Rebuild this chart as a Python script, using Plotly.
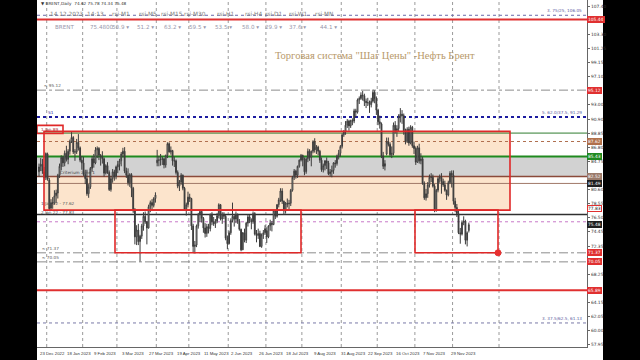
import plotly.graph_objects as go
import pandas as pd

# ---------------- data (Brent daily) ----------------
opens = [
    83.2, 84.0, 84.3, 83.2, 82.4,
    85.8, 82.0, 77.9, 78.7, 78.6, 79.7, 80.1, 82.7, 84.0, 85.3, 84.5, 85.9, 85.0, 86.2, 87.6, 88.2, 86.1, 86.1, 87.5, 86.7, 84.9,
    84.5, 82.8, 82.2, 80.0, 81.0, 83.7, 85.1, 84.5, 86.4, 86.6, 85.6, 85.4, 85.1, 83.0, 84.1, 83.1, 80.6, 82.2, 83.2, 82.5,
    83.9, 84.3, 84.8, 85.8, 86.2, 83.3, 82.7, 81.6, 82.8, 80.8, 77.5, 73.7, 74.7, 73.0, 73.8, 75.3, 76.7, 75.9, 75.0, 78.1, 78.7, 78.3, 79.3,
    84.5, 84.9, 84.9, 85.0, 85.1, 84.2, 85.6, 87.3, 86.1, 86.3, 84.8, 84.8, 83.1, 81.1, 81.7, 82.7, 80.8, 77.7, 78.4,
    79.5, 79.3, 75.3, 72.3, 72.5, 75.3, 77.0, 77.4, 76.4, 75.0, 74.2, 75.2, 74.9, 77.0, 75.9, 75.6, 76.0, 76.8, 78.4, 76.3, 77.0, 76.7, 73.5,
    72.7, 74.3, 76.1, 76.7, 76.3, 77.0, 76.0, 74.8, 71.8, 74.3, 73.2, 75.7, 76.6, 76.1, 75.9, 77.1, 74.1, 73.9, 74.2, 72.3, 74.0, 74.3,
    74.6, 73.7, 75.3, 75.7, 75.5, 77.5, 76.7, 78.4, 79.1, 80.4, 78.9, 77.5, 78.6, 78.5, 78.6, 80.5, 82.4, 83.3, 82.7, 84.0, 84.9,
    85.6, 84.9, 83.2, 85.1, 86.2, 85.3, 86.2, 87.6, 86.4, 86.8, 86.2, 84.9, 83.5, 84.1, 84.8, 84.5, 82.9, 83.2, 83.4, 84.5, 84.4, 85.5, 85.9,
    86.9, 88.6, 89.0, 90.0, 90.6, 89.9, 90.7, 90.6, 92.1, 91.9, 93.7, 93.9, 94.4, 94.3, 93.5, 93.3, 93.3, 93.0, 93.5, 94.8, 93.9,
    92.2, 90.5, 90.2, 85.5, 84.0, 85.8, 87.6, 87.2, 85.7, 85.9, 90.0, 89.2, 89.5, 91.2, 91.6, 91.4, 89.1, 87.6, 89.4, 87.4, 89.7, 87.0,
    86.6, 84.6, 86.7, 84.8, 85.1, 81.5, 79.4, 80.0, 81.3, 82.4, 82.4, 81.1, 77.5, 80.5, 82.2, 82.4, 81.8, 81.3, 80.5, 79.8, 81.6, 83.0,
    82.7, 78.9, 78.0, 77.1, 74.3, 74.1, 75.8, 76.0, 73.2, 74.62,
]
highs = [
    84.4, 85.2, 85.1, 83.9, 86.0,
    86.0, 82.3, 79.2, 79.5, 80.5, 80.6, 82.9, 84.4, 85.6, 85.5, 86.3, 87.0, 86.5, 87.9, 89.0, 88.4, 86.5, 88.0, 88.7, 86.9, 85.5,
    85.4, 83.5, 83.5, 81.4, 83.9, 85.5, 85.8, 86.8, 86.9, 86.8, 85.8, 86.2, 85.3, 84.3, 84.6, 83.4, 82.6, 83.6, 83.5, 84.1,
    84.8, 85.1, 86.1, 86.7, 86.8, 83.8, 83.7, 83.0, 83.0, 81.0, 77.9, 75.4, 75.6, 74.0, 75.6, 77.3, 77.4, 76.0, 78.4, 79.0, 79.2, 79.5, 80.2,
    86.4, 85.5, 85.8, 85.4, 85.2, 85.7, 87.5, 87.5, 86.9, 86.4, 85.4, 85.0, 83.4, 82.0, 83.0, 82.8, 81.0, 78.7, 80.3,
    80.0, 79.4, 75.6, 73.1, 75.5, 77.2, 77.6, 77.6, 76.6, 75.7, 75.6, 75.6, 77.1, 77.3, 76.6, 76.3, 77.2, 78.6, 78.5, 77.3, 77.3, 76.9, 73.9,
    74.6, 76.4, 78.7, 77.0, 77.4, 77.1, 76.3, 74.9, 74.4, 74.9, 75.9, 77.0, 76.9, 76.4, 77.4, 77.3, 74.7, 74.9, 74.6, 74.2, 74.7, 75.4,
    75.1, 75.4, 76.2, 76.0, 77.6, 77.6, 78.5, 79.4, 80.8, 80.8, 79.0, 78.8, 79.3, 79.1, 80.7, 82.6, 83.6, 83.5, 84.1, 85.0, 85.8,
    85.7, 85.3, 85.3, 86.6, 86.5, 86.3, 87.8, 88.1, 87.1, 87.0, 86.4, 85.3, 84.4, 84.9, 85.3, 84.8, 83.6, 84.1, 84.6, 84.9, 85.7, 86.4, 87.1,
    88.8, 89.3, 90.6, 90.9, 90.8, 90.8, 91.0, 92.4, 92.4, 93.9, 94.2, 94.8, 95.0, 94.6, 93.9, 94.0, 93.6, 94.0, 95.2, 95.1, 94.2,
    92.4, 91.4, 90.4, 86.1, 84.9, 88.2, 88.2, 87.5, 86.9, 90.4, 90.6, 90.0, 91.6, 92.5, 92.2, 91.7, 89.5, 89.7, 89.8, 90.0, 89.9, 87.6,
    86.9, 87.0, 87.3, 85.9, 85.4, 81.8, 80.7, 81.7, 82.8, 83.0, 82.8, 81.4, 80.7, 82.5, 82.8, 83.0, 82.2, 81.9, 80.6, 81.9, 83.3, 83.4,
    83.4, 79.4, 78.5, 77.7, 75.0, 76.1, 76.7, 76.2, 74.5, 75.78,
]
lows = [
    82.5, 83.3, 82.9, 81.5, 82.0,
    81.9, 77.6, 77.6, 77.8, 78.4, 78.6, 79.3, 82.3, 83.4, 83.9, 84.0, 84.7, 84.3, 85.7, 87.4, 85.8, 84.8, 85.8, 86.3, 84.6, 83.5,
    82.6, 81.4, 79.7, 79.4, 80.7, 83.2, 83.8, 84.3, 85.2, 84.9, 84.1, 84.4, 82.5, 82.8, 82.9, 80.4, 80.3, 81.6, 81.9, 82.1,
    83.0, 83.4, 84.0, 85.3, 83.0, 82.3, 81.2, 81.0, 79.5, 77.2, 72.6, 72.5, 72.5, 70.1, 73.4, 74.6, 75.6, 72.6, 74.9, 77.3, 77.6, 78.0, 78.7,
    84.0, 84.0, 84.1, 84.2, 83.7, 83.8, 85.2, 86.0, 85.7, 84.1, 83.9, 82.8, 80.8, 80.4, 81.3, 80.5, 77.6, 76.8, 78.0,
    78.8, 74.7, 71.4, 71.3, 72.2, 74.9, 75.9, 75.8, 74.3, 73.6, 73.7, 74.2, 74.5, 75.4, 75.3, 75.0, 75.7, 76.4, 76.1, 75.6, 76.3, 73.2, 71.9,
    72.6, 74.0, 75.8, 75.2, 75.7, 75.6, 74.6, 71.6, 71.8, 72.9, 72.8, 75.2, 75.7, 74.8, 75.6, 73.9, 72.9, 73.4, 72.2, 72.1, 73.4, 74.0,
    72.8, 73.5, 74.6, 74.5, 75.4, 76.3, 76.5, 78.0, 78.8, 78.5, 76.9, 77.1, 78.0, 77.7, 78.2, 80.3, 82.0, 82.2, 82.3, 83.8, 84.7,
    84.0, 82.7, 82.9, 84.6, 84.8, 84.0, 85.9, 86.0, 85.8, 85.6, 84.5, 83.2, 83.1, 83.4, 83.6, 82.7, 82.5, 82.4, 82.9, 83.8, 84.1, 85.0, 85.4,
    86.6, 88.3, 88.6, 89.6, 89.2, 89.6, 90.0, 90.3, 91.2, 91.7, 93.1, 93.7, 93.6, 92.8, 92.5, 92.8, 91.8, 92.6, 93.3, 93.2, 91.5,
    90.0, 89.5, 85.2, 83.6, 83.4, 85.6, 86.9, 85.4, 85.2, 85.6, 88.8, 88.3, 89.1, 90.4, 90.2, 88.6, 87.2, 87.4, 87.0, 87.2, 86.7, 85.8,
    84.2, 84.5, 84.4, 84.3, 81.3, 79.1, 79.0, 79.4, 80.9, 81.7, 80.9, 77.3, 77.4, 80.2, 81.6, 80.0, 81.0, 80.3, 79.1, 79.6, 81.4, 80.9,
    78.4, 77.3, 76.6, 74.1, 72.7, 73.9, 75.4, 72.6, 72.3, 74.34,
]
closes = [
    83.9, 84.3, 83.3, 82.3, 85.9,
    82.1, 77.8, 78.7, 78.6, 79.7, 80.1, 82.7, 84.0, 85.3, 84.5, 85.9, 85.0, 86.2, 87.6, 88.2, 86.1, 86.1, 87.5, 86.7, 84.9, 84.5,
    82.8, 82.2, 80.0, 81.0, 83.7, 85.1, 84.5, 86.4, 86.6, 85.6, 85.4, 85.1, 83.0, 84.1, 83.1, 80.6, 82.2, 83.2, 82.5, 83.9,
    84.3, 84.8, 85.8, 86.2, 83.3, 82.7, 81.6, 82.8, 80.8, 77.5, 73.7, 74.7, 73.0, 73.8, 75.3, 76.7, 75.9, 75.0, 78.1, 78.7, 78.3, 79.3, 79.8,
    84.9, 84.9, 85.0, 85.1, 84.2, 85.6, 87.3, 86.1, 86.3, 84.8, 84.8, 83.1, 81.1, 81.7, 82.7, 80.8, 77.7, 78.4, 79.5,
    79.3, 75.3, 72.3, 72.5, 75.3, 77.0, 77.4, 76.4, 75.0, 74.2, 75.2, 74.9, 77.0, 75.9, 75.6, 76.0, 76.8, 78.4, 76.3, 77.0, 76.7, 73.5, 72.7,
    74.3, 76.1, 76.7, 76.3, 77.0, 76.0, 74.8, 71.8, 74.3, 73.2, 75.7, 76.6, 76.1, 75.9, 77.1, 74.1, 73.9, 74.2, 72.3, 74.0, 74.3, 74.9,
    73.7, 75.3, 75.7, 75.5, 77.5, 76.7, 78.4, 79.1, 80.4, 78.9, 77.5, 78.6, 78.5, 78.6, 80.5, 82.4, 83.3, 82.7, 84.0, 84.9, 85.6,
    84.9, 83.2, 85.1, 86.2, 85.3, 86.2, 87.6, 86.4, 86.8, 86.2, 84.9, 83.5, 84.1, 84.8, 84.5, 82.9, 83.2, 83.4, 84.5, 84.4, 85.5, 85.9, 86.9,
    88.6, 89.0, 90.0, 90.6, 89.9, 90.7, 90.6, 92.1, 91.9, 93.7, 93.9, 94.4, 94.3, 93.5, 93.3, 93.3, 93.0, 93.5, 94.8, 93.9, 92.2,
    90.5, 90.2, 85.5, 84.0, 84.4, 87.6, 87.2, 85.7, 85.9, 90.0, 89.2, 89.5, 91.2, 91.6, 91.4, 89.1, 87.6, 89.4, 87.4, 89.7, 87.0, 86.6,
    84.6, 86.7, 84.8, 85.1, 81.5, 79.4, 80.0, 81.3, 82.4, 82.4, 81.1, 77.5, 80.5, 82.2, 82.4, 81.8, 81.3, 80.5, 79.8, 81.6, 83.0, 82.7,
    78.9, 78.0, 77.1, 74.3, 74.1, 75.8, 76.0, 73.2, 74.3, 75.48,
]

holidays = ["2022-12-26", "2023-01-02", "2023-04-07"]
time_labels = ["23 Dec 2022", "18 Jan 2023", "9 Feb 2023", "3 Mar 2023", "27 Mar 2023",
               "19 Apr 2023", "11 May 2023", "2 Jun 2023", "26 Jun 2023", "18 Jul 2023",
               "9 Aug 2023", "31 Aug 2023", "22 Sep 2023", "16 Oct 2023", "7 Nov 2023", "29 Nov 2023"]
price_ticks = [107.40, 103.30, 101.25, 99.15, 97.10, 93.00, 90.90, 88.85, 86.80,
               84.75, 80.60, 78.55, 76.50, 74.45, 72.35, 68.25, 64.15,
               62.05, 60.00, 57.95]
header_titles = ["14.12.2023", "14:13", "rsi-M1", "rsi-M5", "rsi-M15", "rsi-M30",
                 "rsi-H1", "rsi-H4", "rsi-D1", "rsi-W1", "rsi-MN"]
header_values = ["BRENT", "75.4800", "50.9 ▾", "51.2 ▾", "63.2 ▾", "59.5 ▾",
                 "53.5 ▾", "58.0 ▾", "29.9 ▾", "37.6 ▾", "44.1 ▾"]
axis_levels = [105.44, 95.12, 87.62, 85.43, 82.52, 81.49, 77.83, 75.48, 71.37, 70.05, 65.89]
title_text = 'Торговая система "Шаг Цены" -Нефть Брент'
symbol_line = "▼ BRENT,Daily  74.62 75.78 74.34 75.48"

# ---------------- geometry ----------------
W, H = 640, 360
PL, PR, PT, PB = 37, 587, 0, 347
Y_TOP, Y_BOT = 108.28, 57.62
BAR0, BARW = 39.0, 1.7125
X_LEFT = (PL - BAR0) / BARW
X_RIGHT = (PR - BAR0) / BARW


def bx(px):
    return (px - BAR0) / BARW


def pxp(px):
    return (px - PL) / (PR - PL)


def pyp(py):
    return 1 - (py - PT) / (PB - PT)


all_days = pd.bdate_range("2022-12-23", "2023-12-14")
dates = [d for d in all_days if d.strftime("%Y-%m-%d") not in holidays]
n = min(len(dates), len(closes))
dates = dates[:n]
idx = list(range(n))

fig = go.Figure()
fig.add_trace(go.Candlestick(
    x=idx, open=opens[:n], high=highs[:n], low=lows[:n], close=closes[:n],
    increasing=dict(line=dict(color="#3c3c3c", width=1), fillcolor="#ffffff"),
    decreasing=dict(line=dict(color="#3c3c3c", width=1), fillcolor="#3c3c3c"),
    whiskerwidth=0, showlegend=False, hoverinfo="skip"))

shapes = []
# white chart window over the black page
shapes.append(dict(type="rect", xref="paper", yref="paper", x0=0, x1=(603 - PL) / (PR - PL),
                   y0=-(H - PB) / (PB - PT), y1=1, fillcolor="white", line=dict(width=0), layer="below"))


def hline(y, color, width=1, dash="solid"):
    shapes.append(dict(type="line", xref="x", yref="y", x0=X_LEFT, x1=X_RIGHT, y0=y, y1=y,
                       line=dict(color=color, width=width, dash=dash), layer="below"))


# month grid lines
grid_x = [i - 0.5 for i in range(1, n) if dates[i].month != dates[i - 1].month] + [bx(499)]
for gx in grid_x:
    shapes.append(dict(type="line", xref="x", yref="y", x0=gx, x1=gx, y0=Y_BOT, y1=Y_TOP,
                       line=dict(color="#9a9a9a", width=1, dash="dot"), layer="below"))

# zone box
shapes.append(dict(type="rect", xref="x", yref="y", x0=bx(44), x1=bx(510), y0=77.6, y1=89.1,
                   fillcolor="#fce4cc", line=dict(width=0), layer="below"))
shapes.append(dict(type="rect", xref="x", yref="y", x0=X_LEFT, x1=X_RIGHT, y0=82.5, y1=85.43,
                   fillcolor="#d2d2d2", line=dict(width=0), layer="below"))

hline(106.05, "#6a6aa8", 1, "dot")
hline(105.44, "#e03030", 2)
hline(95.12, "#8c8c8c", 1, "dashdot")
hline(91.2, "#1c1ca0", 2, "dot")
hline(88.85, "#2f7d2f", 1)
hline(87.62, "#b07050", 1, "dot")
hline(85.43, "#1f8a1f", 2)
hline(82.5, "#8b4a3a", 1.5)
hline(81.5, "#a07868", 1)
hline(76.95, "#303030", 1.5)
hline(75.9, "#c878c8", 1, "dot")
hline(71.37, "#8c8c8c", 1, "dashdot")
hline(70.05, "#8c8c8c", 1, "dashdot")
hline(65.89, "#e03030", 2)
hline(61.13, "#7a7aa8", 1, "dot")

# red outline boxes
for x0, x1, y0, y1 in [(bx(44), bx(510), 77.6, 89.1), (bx(115), bx(301), 71.37, 77.6),
                       (bx(415), bx(498), 71.37, 77.6), (X_LEFT, bx(63), 88.8, 89.98)]:
    shapes.append(dict(type="rect", xref="x", yref="y", x0=x0, x1=x1, y0=y0, y1=y1,
                       fillcolor="rgba(0,0,0,0)", line=dict(color="#e02828", width=1.6), layer="above"))
# red anchor dot
shapes.append(dict(type="circle", xref="x", yref="y", xsizemode="pixel", ysizemode="pixel",
                   xanchor=bx(498), yanchor=71.37, x0=-3, x1=3, y0=-3, y1=3,
                   fillcolor="#e83030", line=dict(color="#e83030", width=1)))

ann = []
# time axis labels (left aligned like MT4)
for lab in time_labels:
    d = pd.to_datetime(lab, format="%d %b %Y")
    i = next(k for k in idx if dates[k] == d)
    ann.append(dict(x=i - 0.8, y=pyp(354), xref="x", yref="paper", text=lab, showarrow=False,
                    xanchor="left", yanchor="middle",
                    font=dict(family="Liberation Sans", size=4.3, color="#333")))

# price labels on the axis
label_colors = ["#e03030", "#e03030", "#b0704a", "#1f8a1f", "#9a7a6a", "#202020",
                "#ffffff", "#202020", "#e03030", "#e03030", "#e03030"]
for lv, col in zip(axis_levels, label_colors):
    fc = "#202020" if col == "#ffffff" else "#ffffff"
    ann.append(dict(x=1.0, y=lv, xref="paper", yref="y", text="%.2f" % lv, showarrow=False,
                    xanchor="left", yanchor="middle", bgcolor=col,
                    bordercolor="#e03030" if col == "#ffffff" else col, borderwidth=1, borderpad=0,
                    font=dict(size=4.4, color=fc)))

# header rows
header_title_x = [48, 85, 110, 137, 159, 182, 215, 243, 263, 287, 313]
header_value_x = [53, 88, 110, 135, 162, 187, 213, 240, 263, 287, 318]
for t, xp in zip(header_titles, header_title_x):
    ann.append(dict(x=pxp(xp), y=pyp(14), xref="paper", yref="paper", text=t, showarrow=False,
                    xanchor="left", yanchor="middle", font=dict(size=5.8, color="#7c7c7c")))
for t, xp in zip(header_values, header_value_x):
    ann.append(dict(x=pxp(xp), y=pyp(27), xref="paper", yref="paper", text=t, showarrow=False,
                    xanchor="left", yanchor="middle", font=dict(size=5.6, color="#9898ac")))
ann.append(dict(x=pxp(39), y=pyp(4), xref="paper", yref="paper", text=symbol_line, showarrow=False,
                xanchor="left", yanchor="middle", font=dict(size=4.2, color="#333")))

# title
ann.append(dict(x=pxp(375), y=pyp(56), xref="paper", yref="paper", text=title_text, showarrow=False,
                xanchor="center", yanchor="middle",
                font=dict(family="Liberation Serif", size=10.5, color="#b8996a")))

# object captions
small = [
    (pxp(584), 106.05, "3. 75/25, 106.05", "right", "bottom", "#5a5aa0"),
    (pxp(584), 91.2, "5. 62.0/37.5, 91.29", "right", "bottom", "#5a5aa0"),
    (pxp(584), 61.13, "3. 37.5/62.5, 61.13", "right", "bottom", "#5a5aa0"),
    (pxp(42), 95.12, "≈ 95.12", "left", "bottom", "#555"),
    (pxp(46), 91.2, "S1", "left", "bottom", "#1c1ca0"),
    (pxp(39), 89.4, "1 Jan 89", "left", "middle", "#b03030"),
    (pxp(58), 82.5, "Criterium zone 1", "left", "bottom", "#444"),
    (pxp(39), 77.9, "1 Jan 22 - 77.62", "left", "bottom", "#555"),
    (pxp(39), 77.3, "2 Jan 22 - 77.83", "left", "middle", "#555"),
    (pxp(40), 71.37, "≈ 71.37", "left", "bottom", "#555"),
    (pxp(40), 70.05, "≈ 70.05", "left", "bottom", "#555"),
]
for xp, yv, t, xa, ya, c in small:
    ann.append(dict(x=xp, y=yv, xref="paper", yref="y", text=t, showarrow=False,
                    xanchor=xa, yanchor=ya, font=dict(size=4.2, color=c)))

fig.update_layout(
    width=W, height=H, autosize=False,
    margin=dict(l=PL, r=W - PR, t=PT, b=H - PB, pad=0),
    paper_bgcolor="black", plot_bgcolor="white",
    font=dict(family="DejaVu Sans"),
    shapes=shapes, annotations=ann, showlegend=False,
    xaxis=dict(range=[X_LEFT, X_RIGHT], showgrid=False, zeroline=False, showticklabels=False,
               rangeslider=dict(visible=False), showline=True, linecolor="#666", linewidth=1,
               ticks=""),
    yaxis=dict(range=[Y_BOT, Y_TOP], side="right", tickvals=price_ticks,
               ticktext=["%.2f" % v for v in price_ticks], tickfont=dict(size=4.4, color="#333"),
               ticks="outside", ticklen=2, tickcolor="#666", showgrid=False, zeroline=False,
               showline=True, linecolor="#666", linewidth=1),
)

fig.write_html("out.html")
